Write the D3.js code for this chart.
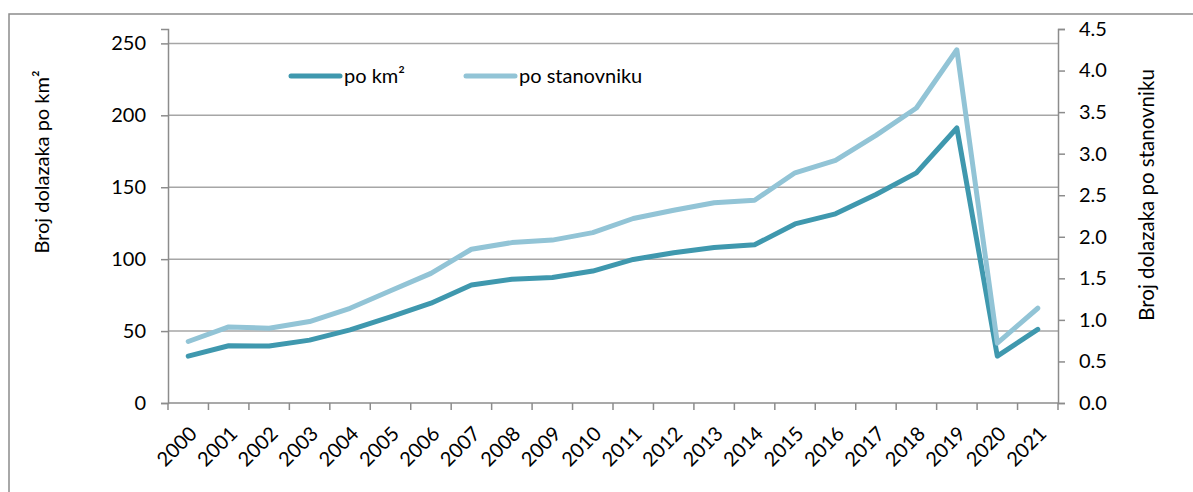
<!DOCTYPE html>
<html>
<head>
<meta charset="utf-8">
<script src="https://cdn.jsdelivr.net/npm/d3@7"></script>
<style>
  html, body { margin: 0; padding: 0; background: #ffffff; }
  svg { display: block; font-family: Lato, "Open Sans", sans-serif; }
</style>
</head>
<body>
<svg id="chart" width="1193" height="492"></svg>
<script>
// Years on the category axis
const years = ["2000","2001","2002","2003","2004","2005","2006","2007","2008","2009","2010",
               "2011","2012","2013","2014","2015","2016","2017","2018","2019","2020","2021"];

// Arrivals per km² (left axis)
const perKm2 = [32.6, 39.8, 39.6, 43.7, 50.8, 59.8, 69.4, 82.0, 86.0, 87.3, 91.7,
                99.8, 104.5, 108.1, 110.0, 124.5, 131.5, 145.0, 160.0, 191.2, 32.6, 51.2];

// Arrivals per inhabitant (right axis)
const perCapita = [0.74, 0.915, 0.90, 0.98, 1.14, 1.35, 1.56, 1.85, 1.93, 1.96, 2.05,
                   2.22, 2.32, 2.41, 2.44, 2.77, 2.92, 3.22, 3.55, 4.25, 0.72, 1.14];

const leftTicks = [0, 50, 100, 150, 200, 250];
const rightTicks = [0, 0.5, 1, 1.5, 2, 2.5, 3, 3.5, 4, 4.5];

const seriesNames = ["po km²", "po stanovniku"];
const colors = ["#3f98ae", "#92c4d6"];
const axisGray = "#8c8c8c";
const gridGray = "#a6a6a6";

const svg = d3.select("#chart");

const plot = { left: 168, right: 1058, top: 29, bottom: 403 };

const x = d3.scaleBand().domain(years).range([plot.left, plot.right]).padding(0);
const yL = d3.scaleLinear().domain([0, 260]).range([plot.bottom, plot.top]);
const yR = d3.scaleLinear().domain([0, 4.5]).range([plot.bottom, plot.top]);

// Outer chart frame (clipped by the viewport at right and bottom)
svg.append("rect")
  .attr("x", 9).attr("y", 14)
  .attr("width", 1200).attr("height", 500)
  .attr("fill", "none").attr("stroke", axisGray).attr("stroke-width", 1.5);

// Horizontal gridlines tied to the left axis
svg.append("g").selectAll("line")
  .data(leftTicks.filter(d => d > 0))
  .join("line")
  .attr("x1", plot.left).attr("x2", plot.right)
  .attr("y1", d => yL(d)).attr("y2", d => yL(d))
  .attr("stroke", gridGray).attr("stroke-width", 1.5);

// Left value axis
const leftAxis = svg.append("g")
  .attr("transform", `translate(${plot.left},0)`)
  .call(d3.axisLeft(yL).tickValues(leftTicks).tickSize(7).tickPadding(15).tickFormat(d3.format("d")));

// Right value axis
const rightAxis = svg.append("g")
  .attr("transform", `translate(${plot.right},0)`)
  .call(d3.axisRight(yR).tickValues(rightTicks).tickSize(7).tickPadding(14).tickFormat(d3.format(".1f")));

// Category axis: ticks sit on band boundaries
const boundaries = years.map(y => x(y)).concat([plot.right]);
const xAxisG = svg.append("g");
xAxisG.append("line")
  .attr("x1", plot.left).attr("x2", plot.right)
  .attr("y1", plot.bottom).attr("y2", plot.bottom)
  .attr("stroke", axisGray).attr("stroke-width", 1.5);
xAxisG.selectAll("line.tick")
  .data(boundaries)
  .join("line")
  .attr("class", "tick")
  .attr("x1", d => d).attr("x2", d => d)
  .attr("y1", plot.bottom).attr("y2", plot.bottom + 7)
  .attr("stroke", axisGray).attr("stroke-width", 1.5);
xAxisG.selectAll("text")
  .data(years)
  .join("text")
  .attr("transform", d => `translate(${x(d) + x.bandwidth() / 2 + 5},${plot.bottom + 27}) rotate(-45)`)
  .attr("text-anchor", "end")
  .attr("dy", "0.35em")
  .attr("font-size", 20)
  .attr("fill", "#000")
  .text(d => d);

[leftAxis, rightAxis].forEach(g => {
  g.select(".domain").attr("stroke", axisGray).attr("stroke-width", 1.5);
  g.selectAll(".tick line").attr("stroke", axisGray).attr("stroke-width", 1.5);
  g.selectAll(".tick text").attr("font-size", 20).attr("fill", "#000")
    .attr("font-family", "Lato, 'Open Sans', sans-serif");
});

// Series lines
const lineL = d3.line().x((d, i) => x(years[i]) + x.bandwidth() / 2).y(d => yL(d));
const lineR = d3.line().x((d, i) => x(years[i]) + x.bandwidth() / 2).y(d => yR(d));

svg.append("path")
  .datum(perKm2)
  .attr("d", lineL)
  .attr("fill", "none").attr("stroke", colors[0]).attr("stroke-width", 5)
  .attr("stroke-linejoin", "round").attr("stroke-linecap", "round");

svg.append("path")
  .datum(perCapita)
  .attr("d", lineR)
  .attr("fill", "none").attr("stroke", colors[1]).attr("stroke-width", 5)
  .attr("stroke-linejoin", "round").attr("stroke-linecap", "round");

// Axis titles
svg.append("text")
  .attr("transform", "translate(42,162) rotate(-90)")
  .attr("text-anchor", "middle").attr("dy", "0.35em")
  .attr("font-size", 20).attr("fill", "#000")
  .text("Broj dolazaka po km²");

svg.append("text")
  .attr("transform", "translate(1147,195) rotate(-90)")
  .attr("text-anchor", "middle").attr("dy", "0.35em")
  .attr("font-size", 20.5).attr("fill", "#000")
  .text("Broj dolazaka po stanovniku");

// Legend
const legendPos = [{ x: 291, y: 76 }, { x: 466, y: 76 }];
const legend = svg.append("g").selectAll("g")
  .data(seriesNames)
  .join("g")
  .attr("transform", (d, i) => `translate(${legendPos[i].x},${legendPos[i].y})`);
legend.append("line")
  .attr("x1", 0).attr("x2", 49).attr("y1", 0).attr("y2", 0)
  .attr("stroke", (d, i) => colors[i]).attr("stroke-width", 5).attr("stroke-linecap", "round");
legend.append("text")
  .attr("x", 53).attr("dy", "0.35em")
  .attr("font-size", 20).attr("fill", "#000")
  .text(d => d);
</script>
</body>
</html>
